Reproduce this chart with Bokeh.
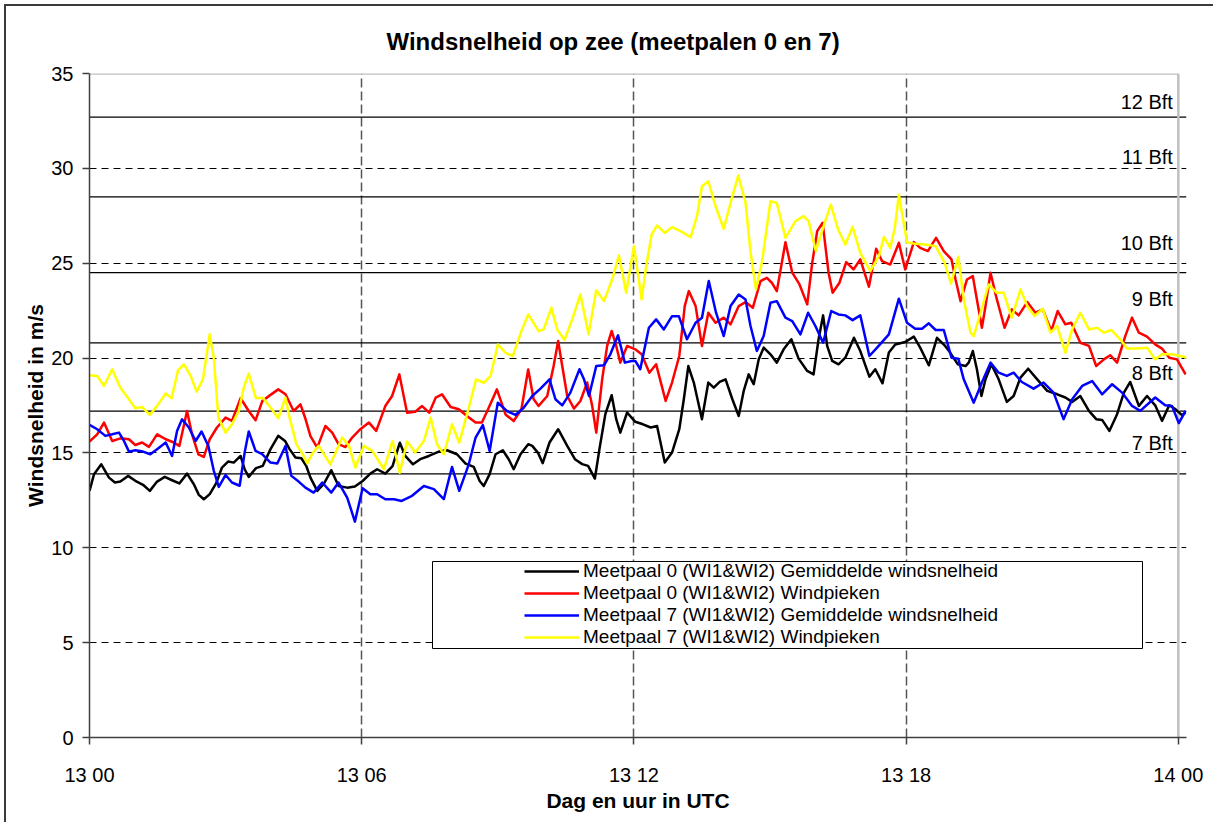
from bokeh.plotting import figure
from bokeh.models import (Range1d, FixedTicker, Span, Legend, LegendItem,
                          BoxAnnotation)
from bokeh.core.properties import value
from bokeh.embed import file_html
from bokeh.resources import INLINE

FONT = "Liberation Sans"

# ---------------- data (hours since 13 00 UTC, wind speed m/s) ----------------
black_pts = [(0,13.0),(0.1,13.88),(0.26,14.4),(0.43,13.7),(0.56,13.44),(0.68,13.49),(0.85,13.79),(1.01,13.53),
    (1.18,13.32),(1.33,13.0),(1.49,13.49),(1.66,13.74),(1.82,13.56),(1.98,13.39),(2.15,13.91),(2.3,13.35),
    (2.41,12.79),(2.52,12.56),(2.65,12.83),(2.79,13.39),(2.92,14.23),(3.06,14.55),(3.18,14.49),(3.33,14.84),
    (3.42,14.14),(3.51,13.74),(3.67,14.2),(3.82,14.32),(3.99,15.2),(4.16,15.9),(4.31,15.63),(4.41,15.2),
    (4.54,14.76),(4.67,14.72),(4.78,14.3),(4.87,13.7),(5.02,13.0),(5.16,13.35),(5.33,14.09),(5.49,13.26),
    (5.68,13.17),(5.85,13.23),(6.02,13.52),(6.19,13.91),(6.34,14.14),(6.52,13.91),(6.68,14.31),(6.84,15.54),
    (6.96,14.84),(7.13,14.4),(7.29,14.67),(7.48,14.84),(7.7,15.07),(7.88,15.14),(8.1,14.93),(8.29,14.44),
    (8.47,14.26),(8.6,13.52),(8.69,13.26),(8.82,13.88),(8.95,14.93),(9.11,15.14),(9.24,14.67),(9.35,14.14),
    (9.5,14.93),(9.67,15.46),(9.76,15.37),(9.89,14.99),(9.99,14.46),(10.14,15.55),(10.33,16.25),(10.53,15.37),
    (10.7,14.67),(10.86,14.41),(10.99,14.32),(11.14,13.65),(11.24,15.2),(11.37,17.04),(11.51,18.04),(11.61,16.78),
    (11.7,16.07),(11.85,17.13),(12.03,16.64),(12.2,16.51),(12.37,16.34),(12.51,16.42),(12.68,14.5),(12.84,15.02),
    (13.0,16.25),(13.1,17.83),(13.2,19.58),(13.32,18.71),(13.5,16.78),(13.64,18.71),(13.76,18.44),(13.89,18.74),
    (14.02,18.88),(14.17,17.83),(14.31,16.95),(14.42,18.27),(14.53,19.14),(14.64,18.62),(14.75,19.93),(14.86,20.55),
    (15.01,20.2),(15.15,19.76),(15.3,20.46),(15.47,20.99),(15.63,19.97),(15.82,19.32),(15.96,19.14),(16.07,20.99),
    (16.17,22.25),(16.26,20.64),(16.37,19.85),(16.51,19.67),(16.66,20.02),(16.85,21.07),(16.99,20.37),(17.19,19.02),
    (17.32,19.41),(17.48,18.67),(17.62,20.29),(17.76,20.72),(17.98,20.85),(18.17,21.13),(18.31,20.55),(18.5,19.62),
    (18.68,21.07),(18.86,20.64),(18.97,20.29),(19.14,19.67),(19.31,19.58),(19.38,19.76),(19.47,20.37),(19.56,19.41),
    (19.66,18.0),(19.75,18.88),(19.88,19.67),(20.04,18.88),(20.22,17.69),(20.37,18.0),(20.52,18.97),(20.69,19.44),
    (20.89,18.88),(21.11,18.27),(21.33,18.09),(21.51,17.92),(21.66,17.69),(21.84,18.0),(22.03,17.22),(22.19,16.78),
    (22.32,16.74),(22.48,16.16),(22.65,17.04),(22.8,18.18),(22.94,18.74),(23.13,17.48),(23.31,18.0),(23.49,17.51),
    (23.64,16.69),(23.8,17.51),(23.94,17.3),(24.08,16.99),(24.16,17.13)]

red_pts = [(0,15.6),(0.17,15.98),(0.32,16.6),(0.5,15.63),(0.68,15.77),(0.87,15.72),(1.01,15.42),(1.16,15.55),
    (1.31,15.32),(1.49,15.98),(1.68,15.72),(1.86,15.55),(1.98,15.37),(2.15,17.21),(2.26,15.98),(2.4,14.93),
    (2.52,14.79),(2.65,15.72),(2.81,16.34),(3.0,16.86),(3.14,16.69),(3.33,17.88),(3.51,17.21),(3.66,16.72),
    (3.81,17.74),(3.99,18.06),(4.16,18.35),(4.32,18.09),(4.5,17.21),(4.65,17.56),(4.76,16.8),(4.87,15.89),
    (5.02,15.28),(5.2,16.42),(5.35,16.07),(5.49,15.46),(5.64,15.31),(5.79,15.81),(5.97,16.25),(6.16,16.6),
    (6.32,16.16),(6.52,17.47),(6.67,18.0),(6.83,19.14),(7.0,17.12),(7.18,17.17),(7.33,17.47),(7.49,17.12),
    (7.63,17.91),(7.77,18.09),(7.96,17.42),(8.14,17.3),(8.32,16.95),(8.51,16.6),(8.65,16.6),(8.8,17.38),
    (8.98,18.35),(9.17,17.03),(9.35,16.68),(9.52,17.3),(9.67,19.4),(9.79,17.83),(9.9,17.48),(10.09,18.0),
    (10.23,19.58),(10.33,20.9),(10.42,19.58),(10.53,18.0),(10.68,17.34),(10.82,17.74),(10.97,18.71),(11.08,17.48),
    (11.17,16.07),(11.3,18.88),(11.41,20.64),(11.51,21.43),(11.61,20.64),(11.7,19.76),(11.85,20.64),(12.03,20.46),
    (12.17,20.2),(12.34,19.23),(12.49,19.67),(12.7,17.74),(12.84,18.71),(13.0,20.11),(13.12,22.74),(13.21,23.53),
    (13.36,22.74),(13.5,20.64),(13.64,22.39),(13.8,21.86),(13.98,22.13),(14.13,21.78),(14.31,22.74),(14.46,22.95),
    (14.62,22.65),(14.79,24.06),(14.93,24.23),(15.04,23.97),(15.15,23.53),(15.34,26.11),(15.49,24.5),(15.65,23.88),
    (15.82,22.83),(15.93,25.02),(16.04,26.69),(16.16,27.13),(16.29,24.5),(16.38,23.44),(16.53,23.97),(16.68,25.06),
    (16.84,24.67),(16.99,25.2),(17.18,23.76),(17.34,25.76),(17.47,25.11),(17.65,24.93),(17.84,26.07),(17.98,24.67),
    (18.17,26.11),(18.31,25.81),(18.48,25.64),(18.66,26.34),(18.83,25.64),(19.0,25.2),(19.09,24.14),(19.2,23.0),
    (19.34,24.14),(19.47,24.32),(19.56,23.09),(19.67,21.6),(19.75,22.74),(19.86,24.5),(20.0,23.09),(20.17,21.6),
    (20.33,22.57),(20.48,22.25),(20.67,22.95),(20.85,22.39),(21.01,22.57),(21.2,21.43),(21.34,22.48),(21.51,21.78),
    (21.64,21.86),(21.84,20.81),(22.03,20.64),(22.19,19.58),(22.36,19.93),(22.5,20.15),(22.65,19.76),(22.83,21.16),
    (22.98,22.13),(23.13,21.34),(23.31,21.13),(23.49,20.72),(23.64,20.5),(23.8,20.02),(23.97,19.93),(24.16,19.14)]

blue_pts = [(0,16.48),(0.17,16.25),(0.35,15.9),(0.5,15.98),(0.65,16.07),(0.76,15.63),(0.87,15.07),(1.01,15.14),
    (1.18,15.07),(1.34,14.93),(1.49,15.2),(1.68,15.55),(1.82,14.84),(1.93,16.16),(2.04,16.77),(2.19,16.34),
    (2.34,15.63),(2.47,16.13),(2.62,15.37),(2.74,14.06),(2.85,13.21),(3.0,13.84),(3.14,13.44),(3.31,13.27),
    (3.42,15.02),(3.51,16.13),(3.66,15.11),(3.81,14.93),(3.99,14.49),(4.14,14.44),(4.32,15.37),(4.45,13.79),
    (4.61,13.49),(4.76,13.17),(4.94,12.91),(5.13,13.44),(5.33,12.91),(5.49,13.44),(5.68,12.65),(5.85,11.38),
    (6.02,13.14),(6.19,12.82),(6.34,12.82),(6.52,12.56),(6.71,12.56),(6.88,12.47),(7.11,12.74),(7.37,13.26),
    (7.59,13.09),(7.81,12.56),(7.99,14.26),(8.15,13.0),(8.36,14.4),(8.51,15.81),(8.67,16.47),(8.82,15.1),
    (9.0,17.65),(9.2,17.21),(9.39,17.0),(9.57,17.38),(9.76,18.0),(9.94,18.39),(10.14,18.88),(10.27,17.83),
    (10.42,17.51),(10.6,18.18),(10.8,19.41),(10.9,18.88),(11.01,18.0),(11.17,19.58),(11.34,19.62),(11.48,20.2),
    (11.65,21.2),(11.8,19.76),(11.95,19.85),(12.03,19.85),(12.14,19.41),(12.33,21.6),(12.49,22.04),(12.66,21.51),
    (12.84,22.21),(12.99,22.21),(13.17,20.99),(13.36,21.86),(13.5,22.13),(13.65,24.06),(13.81,22.39),(13.98,21.16),
    (14.13,22.74),(14.31,23.35),(14.46,23.09),(14.57,21.69),(14.71,20.37),(14.86,21.16),(15.01,22.92),(15.15,23.0),
    (15.34,22.13),(15.49,21.95),(15.67,21.25),(15.84,22.39),(16.0,21.69),(16.17,20.81),(16.35,22.48),(16.51,22.3),
    (16.66,22.25),(16.82,22.0),(16.99,22.25),(17.19,20.11),(17.36,20.55),(17.62,21.25),(17.84,23.13),(18.02,21.86),
    (18.2,21.55),(18.35,21.55),(18.5,21.83),(18.65,21.48),(18.83,21.48),(19.0,20.02),(19.15,19.97),(19.27,18.88),
    (19.49,17.65),(19.67,18.71),(19.86,19.76),(20.04,19.23),(20.22,19.06),(20.37,19.23),(20.55,18.74),(20.81,18.39),
    (21.03,18.71),(21.25,18.18),(21.47,16.78),(21.66,17.83),(21.88,18.53),(22.1,18.79),(22.32,18.09),(22.54,18.62),
    (22.76,18.18),(22.98,17.48),(23.16,17.22),(23.49,17.92),(23.71,17.51),(23.86,17.48),(24.01,16.57),(24.16,17.22)]

yellow_pts = [(0,19.1),(0.17,19.06),(0.32,18.53),(0.5,19.41),(0.68,18.44),(0.87,17.83),(1.01,17.35),(1.16,17.42),
    (1.33,17.0),(1.49,17.48),(1.68,18.13),(1.81,17.88),(1.95,19.35),(2.08,19.67),(2.23,19.06),(2.36,18.23),
    (2.5,18.88),(2.65,21.25),(2.74,20.02),(2.84,16.86),(3.0,16.07),(3.14,16.51),(3.29,17.21),(3.4,18.44),
    (3.51,19.18),(3.67,17.88),(3.82,17.91),(3.99,17.39),(4.16,16.83),(4.32,17.91),(4.41,16.86),(4.56,15.46),
    (4.7,14.93),(4.8,14.45),(4.92,15.0),(5.05,15.37),(5.31,14.4),(5.57,15.81),(5.72,15.37),(5.86,14.23),
    (6.05,15.37),(6.23,15.11),(6.49,14.14),(6.68,15.63),(6.84,13.96),(7.0,15.6),(7.18,15.02),(7.37,15.63),
    (7.52,16.86),(7.66,15.46),(7.81,14.93),(7.99,16.51),(8.15,15.54),(8.36,17.38),(8.52,18.88),(8.69,18.7),
    (8.84,19.05),(9.0,20.72),(9.17,20.28),(9.33,20.1),(9.52,21.42),(9.67,22.3),(9.9,21.42),(10.01,21.51),
    (10.18,22.65),(10.31,21.51),(10.47,20.95),(10.64,22.04),(10.82,23.36),(11.0,21.25),(11.17,23.58),(11.34,23.0),
    (11.52,24.14),(11.67,25.41),(11.83,23.44),(12.0,25.9),(12.17,23.09),(12.27,24.85),(12.39,26.51),(12.51,26.99),
    (12.68,26.6),(12.84,26.9),(13.03,26.69),(13.25,26.37),(13.39,27.48),(13.5,29.06),(13.64,29.32),(13.8,28.0),
    (13.98,26.81),(14.13,28.18),(14.3,29.62),(14.46,28.2),(14.57,25.6),(14.69,23.62),(14.82,25.02),(15.01,28.27),
    (15.15,28.18),(15.34,26.34),(15.56,27.22),(15.74,27.48),(15.85,27.22),(16.01,25.64),(16.18,26.95),(16.34,28.09),
    (16.5,26.78),(16.66,25.99),(16.82,26.92),(16.99,25.55),(17.21,24.58),(17.4,25.37),(17.51,26.39),(17.65,25.81),
    (17.75,26.86),(17.84,28.62),(17.92,27.48),(18.02,26.11),(18.2,26.02),(18.42,25.99),(18.65,25.9),(18.85,25.02),
    (18.99,23.93),(19.15,25.34),(19.27,23.09),(19.42,21.34),(19.49,21.16),(19.64,22.39),(19.82,23.88),(20.0,23.44),
    (20.15,23.44),(20.33,22.13),(20.52,23.62),(20.67,22.74),(20.83,22.22),(21.01,22.6),(21.18,21.34),(21.33,21.69),
    (21.51,20.29),(21.66,21.51),(21.84,22.39),(22.03,21.51),(22.21,21.6),(22.36,21.34),(22.52,21.48),(22.72,20.99),
    (22.87,20.5),(23.09,20.5),(23.31,20.55),(23.49,19.93),(23.64,20.2),(23.86,20.2),(24.12,20.07),(24.18,20.0)]

series_names = ["Meetpaal 0 (WI1&WI2) Gemiddelde windsnelheid",
                "Meetpaal 0 (WI1&WI2) Windpieken",
                "Meetpaal 7 (WI1&WI2) Gemiddelde windsnelheid",
                "Meetpaal 7 (WI1&WI2) Windpieken"]
series_colors = ["#000000", "#FF0000", "#0000FF", "#FFFF00"]

x_ticks = [0, 6, 12, 18, 24]
x_tick_labels = ["13 00", "13 06", "13 12", "13 18", "14 00"]
y_ticks = [0, 5, 10, 15, 20, 25, 30, 35]

bft_edges = [13.9, 17.2, 20.8, 24.5, 28.5, 32.7]
bft_labels = ["7 Bft", "8 Bft", "9 Bft", "10 Bft", "11 Bft", "12 Bft"]
bft_label_y = [15.5, 19.2, 23.1, 26.05, 30.6, 33.5]

X_END, Y_TOP = 24, 35

# ---------------- figure ----------------
p = figure(width=1209, height=818, output_backend="svg", toolbar_location=None,
           x_range=Range1d(0, 24.18), y_range=Range1d(0, Y_TOP),
           min_border_left=83, min_border_right=29, min_border_top=66, min_border_bottom=87,
           background_fill_color="white", border_fill_color="white")
p.styles = {"margin-left": "4px", "margin-top": "4px",
            "border-left": "2px solid #3a3a3a", "border-top": "2px solid #3a3a3a"}
p.outline_line_color = None

# title
p.title.text = "Windsnelheid op zee (meetpalen 0 en 7)"
p.title.align = "left"
p.title.offset = 297
p.title.standoff = 38
p.title.text_font = FONT
p.title.text_font_style = "bold"
p.title.text_font_size = "24px"
p.title.text_color = "black"

# grids
p.ygrid.ticker = FixedTicker(ticks=[5, 10, 15, 20, 25, 30])
p.ygrid.grid_line_color = "black"
p.ygrid.grid_line_dash = "7 5"
p.ygrid.grid_line_width = 1
p.xgrid.ticker = FixedTicker(ticks=[6, 12, 18])
p.xgrid.grid_line_color = "#555555"
p.xgrid.grid_line_dash = "9 4"
p.xgrid.grid_line_width = 1.5

# axes
for ax in (p.xaxis[0], p.yaxis[0]):
    ax.axis_line_color = "#404040"
    ax.axis_line_width = 1.5
    ax.major_tick_line_color = "#404040"
    ax.major_tick_line_width = 1.5
    ax.major_tick_in = 0
    ax.major_tick_out = 7
    ax.minor_tick_line_color = None
    ax.major_label_text_font = FONT
    ax.major_label_text_font_size = "20px"
    ax.major_label_text_color = "black"
    ax.axis_label_text_font = FONT
    ax.axis_label_text_font_size = "21px"
    ax.axis_label_text_font_style = "bold"
    ax.axis_label_text_color = "black"

p.xaxis.ticker = FixedTicker(ticks=x_ticks)
p.xaxis.major_label_overrides = {t: l for t, l in zip(x_ticks, x_tick_labels)}
p.xaxis.major_label_standoff = 19
p.xaxis.axis_label = "Dag en uur in UTC"
p.xaxis.axis_label_standoff = 0

p.yaxis.ticker = FixedTicker(ticks=y_ticks)
p.yaxis.major_label_standoff = 9
p.yaxis.axis_label = "Windsnelheid in m/s"
p.yaxis.axis_label_standoff = 1

# Beaufort boundaries
for v in bft_edges:
    p.add_layout(Span(location=v, dimension="width", line_color="black",
                      line_width=1.3, level="underlay"))

# plot-area frame (top and right, light grey)
p.segment(x0=[0, X_END], y0=[Y_TOP, 0], x1=[X_END, X_END], y1=[Y_TOP, Y_TOP],
          line_color="#c0c0c0", line_width=2.5)

# data lines
renderers = []
for pts, col in zip([black_pts, red_pts, blue_pts, yellow_pts], series_colors):
    xs = [a for a, b in pts]
    ys = [b for a, b in pts]
    r = p.line(xs, ys, line_color=col, line_width=2.5, line_join="round")
    renderers.append(r)

# Beaufort labels
p.text(x=[23.88] * len(bft_labels), y=bft_label_y, text=bft_labels,
       text_align="right", text_baseline="middle", text_color="black",
       text_font=value(FONT), text_font_size="20px")

# legend box + legend
p.add_layout(BoxAnnotation(left=343, right=1053, bottom=89, top=176,
                           left_units="screen", right_units="screen",
                           top_units="screen", bottom_units="screen",
                           fill_color="white", fill_alpha=1,
                           line_color="black", line_width=1, line_alpha=1))
legend = Legend(items=[LegendItem(label=n, renderers=[r]) for n, r in zip(series_names, renderers)],
                location=(435, 89), orientation="vertical", padding=0, margin=0, spacing=0,
                border_line_alpha=0, background_fill_alpha=0,
                label_text_font=FONT, label_text_font_size="19px", label_text_color="black",
                glyph_width=55, glyph_height=18, label_height=18, label_standoff=4)
p.add_layout(legend)

open("out.html", "w").write(file_html(p, INLINE))
